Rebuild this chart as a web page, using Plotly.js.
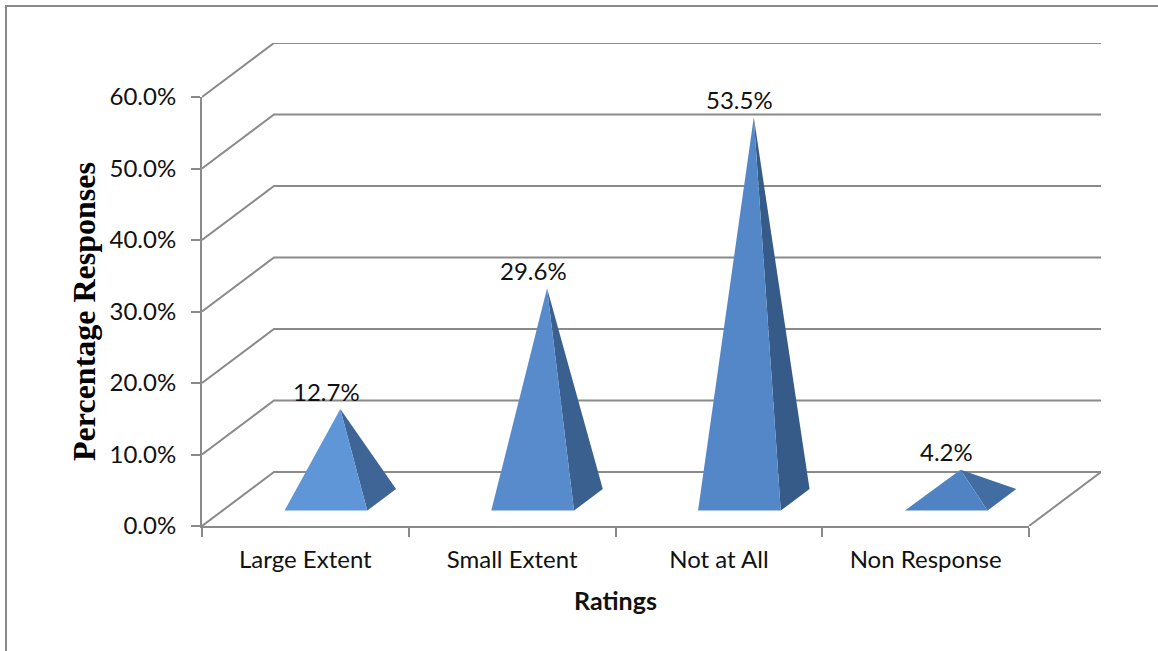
<!DOCTYPE html>
<html>
<head>
<meta charset="utf-8">
<script src="https://cdn.plot.ly/plotly-3.0.1.min.js"></script>
<style>html,body{margin:0;padding:0;background:#fff}#chart{width:1158px;height:651px}</style>
</head>
<body>
<div id="chart"></div>
<script>
// Survey results by rating
const categories = ['Large Extent', 'Small Extent', 'Not at All', 'Non Response'];
const shares = [12.7, 29.6, 53.5, 4.2];
const yTicks = [0, 10, 20, 30, 40, 50, 60];
const frontColors = ['#5e96d8', '#578bcb', '#5487c7', '#5083c3'];
const sideColors = ['#3e6595', '#39608f', '#365b88', '#426da2'];

// Pixel frame of the chart box
const W = 1158, H = 651;
const left = 202, frontRight = 1029, backRight = 1101;
const floorY = 526, topFrontY = 97, topBackY = 43;

const AXIS = '#8a8a8a';
const TEXT = '#111111';
const SANS = 'Lato, "Open Sans", sans-serif';

// The oblique view: depth 0..1 shifts a point right and up by a fixed amount
const catPx = (frontRight - left) / categories.length;
const pctPx = (floorY - topFrontY) / 60;
const depthX = (backRight - frontRight) / catPx;
const depthY = (topFrontY - topBackY) / pctPx;
const project = (u, d, v) => [u + d * depthX, v + d * depthY];

function polyline(points, extra) {
  const xy = points.map(p => project(p[0], p[1], p[2]));
  return Object.assign({
    type: 'scatter', xaxis: 'x2', yaxis: 'y2', hoverinfo: 'skip', showlegend: false,
    x: xy.map(p => p[0]), y: xy.map(p => p[1]), cliponaxis: false
  }, extra);
}

const gridStyle = { mode: 'lines', line: { color: AXIS, width: 2 } };
const traces = [];

// Carrier for the category axis
traces.push({
  type: 'scatter', x: categories, y: shares, mode: 'markers',
  marker: { opacity: 0, size: 1 }, hoverinfo: 'skip', showlegend: false
});

// Side wall gridlines and back wall gridlines
yTicks.forEach(v => {
  traces.push(polyline([[-0.5, 0, v], [-0.5, 1, v], [3.5, 1, v]], gridStyle));
});
// Right edge of the floor
traces.push(polyline([[3.5, 0, 0], [3.5, 1, 0]], gridStyle));

// Pyramids: a front face and a right-hand face
const halfWidth = 0.2, baseDepth = 0.285, backDepth = 0.685, apexDepth = 0.485;
shares.forEach((v, i) => {
  const fl = [i - halfWidth, baseDepth, 0];
  const fr = [i + halfWidth, baseDepth, 0];
  const br = [i + halfWidth, backDepth, 0];
  const apex = [i, apexDepth, v];
  traces.push(polyline([fr, br, apex, fr], {
    mode: 'lines', fill: 'toself', fillcolor: sideColors[i], line: { width: 0 }
  }));
  traces.push(polyline([fl, fr, apex, fl], {
    mode: 'lines', fill: 'toself', fillcolor: frontColors[i], line: { width: 0 }
  }));
});

const layout = {
  width: W, height: H,
  paper_bgcolor: '#fff', plot_bgcolor: 'rgba(0,0,0,0)',
  margin: { l: left, r: W - backRight, t: topBackY, b: H - floorY, pad: 0 },
  showlegend: false,
  font: { family: SANS, color: TEXT },
  xaxis: {
    type: 'category', categoryorder: 'array', categoryarray: categories,
    range: [-0.5, 3.5], domain: [0, (frontRight - left) / (backRight - left)],
    anchor: 'y',
    tickson: 'boundaries', ticks: 'outside', ticklen: 9, tickwidth: 2, tickcolor: AXIS,
    showline: true, linecolor: AXIS, linewidth: 2, showgrid: false, zeroline: false,
    tickfont: { family: SANS, size: 24, color: TEXT }, ticklabelstandoff: 11,
    title: { text: '<b>Ratings</b>', font: { family: SANS, size: 25, color: TEXT }, standoff: 21 },
    automargin: false
  },
  yaxis: {
    range: [0, 60], domain: [0, (floorY - topFrontY) / (floorY - topBackY)],
    anchor: 'x',
    tickmode: 'array', tickvals: yTicks, ticktext: yTicks.map(v => v.toFixed(1) + '%'),
    ticks: 'outside', ticklen: 9, tickwidth: 2, tickcolor: AXIS,
    showline: true, linecolor: AXIS, linewidth: 2, showgrid: false, zeroline: false,
    tickfont: { family: SANS, size: 24, color: TEXT }, ticklabelstandoff: 10,
    title: {
      text: '<b>Percentage Responses</b>',
      font: { family: '"Liberation Serif", serif', size: 32, color: '#000' }, standoff: 4
    },
    automargin: false
  },
  xaxis2: {
    anchor: 'y2', domain: [0, 1],
    range: [-0.5, 3.5 + depthX], visible: false, fixedrange: true
  },
  yaxis2: {
    anchor: 'x2', domain: [0, 1],
    range: [0, 60 + depthY], visible: false, fixedrange: true
  },
  // Value labels sit just above and left of each apex
  annotations: shares.map((v, i) => ({
    xref: 'x', yref: 'y', x: i, y: v,
    text: v.toFixed(1) + '%', showarrow: false,
    xanchor: 'center', yanchor: 'middle',
    xshift: 21, yshift: 44,
    font: { family: SANS, size: 24, color: TEXT }
  })),
  // Frame around the chart: top and left edges only
  shapes: [{
    type: 'path', xref: 'paper', yref: 'paper',
    path: 'M ' + ((6 - left) / (backRight - left)) + ' ' + ((floorY - H) / (floorY - topBackY)) +
      ' L ' + ((6 - left) / (backRight - left)) + ' ' + ((floorY - 6) / (floorY - topBackY)) +
      ' L ' + ((W - left) / (backRight - left)) + ' ' + ((floorY - 6) / (floorY - topBackY)),
    line: { color: AXIS, width: 2 }, layer: 'below'
  }]
};

Plotly.newPlot('chart', traces, layout, { displayModeBar: false, staticPlot: true });
</script>
</body>
</html>
